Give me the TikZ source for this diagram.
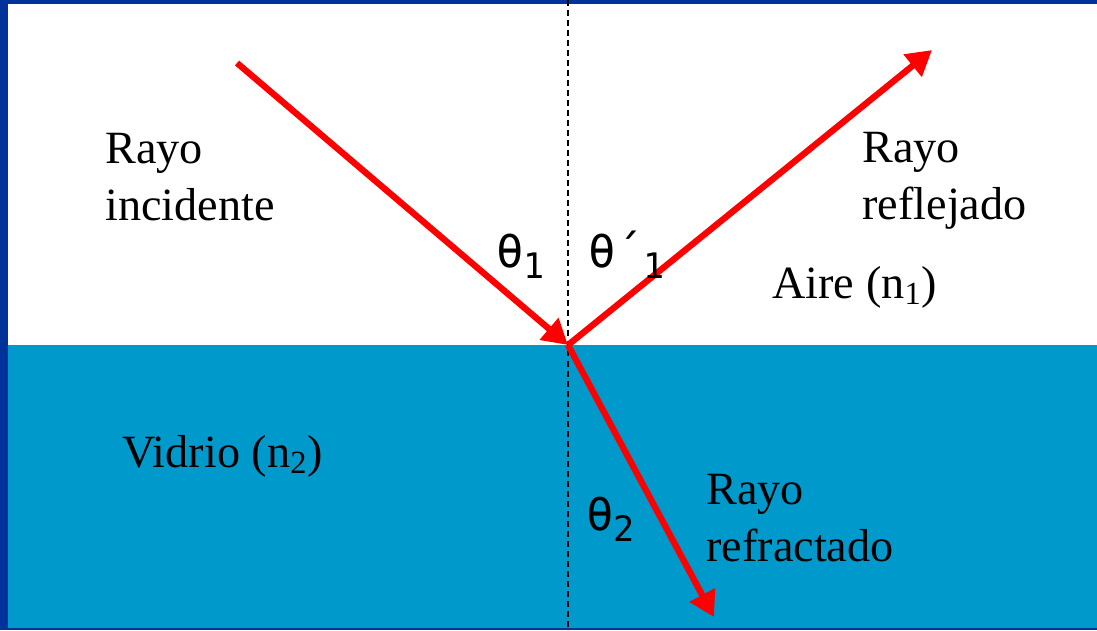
\documentclass[tikz,border=0pt]{standalone}
\usepackage{fontspec}
\setmainfont{Liberation Serif}
\newfontfamily\anglefont{DejaVu Sans Mono}
\usetikzlibrary{arrows.meta}
\definecolor{frameblue}{RGB}{0,51,153}
\definecolor{glassblue}{RGB}{0,153,204}
\definecolor{rayred}{RGB}{255,0,0}
\newcommand{\angsub}[1]{\raisebox{-6.8pt}{\fontsize{20}{20}\selectfont #1}}

\begin{document}
\begin{tikzpicture}[x=0.02cm, y=-0.02cm,
    ray/.style={rayred, line width=3.6pt, -{Triangle[length=0.5cm, width=0.55cm]}},
    txt/.style={inner sep=0pt, anchor=base west, align=left, font=\fontsize{26.3}{32.3}\selectfont},
    ang/.style={inner sep=0pt, anchor=base west, font=\anglefont\fontsize{26}{26}\selectfont}]
  \useasboundingbox (0,0) rectangle (1097,630);
  % media and frame
  \fill [white] (0,0) rectangle (1097,345);
  \fill [glassblue] (0,345) rectangle (1097,630);
  \fill [frameblue] (0,0) rectangle (1097,4);
  \fill [frameblue] (0,0) rectangle (8,630);
  \fill [frameblue] (0,628) rectangle (1097,630);

  \coordinate (ntop) at (568,0);
  \coordinate (nbot) at (568,630);
  \coordinate (src) at (237,63);
  \coordinate (hit) at (568,345);
  \coordinate (refl) at (932,50);
  \coordinate (refr) at (714,617);

  % normal
  \draw [black, line width=0.85pt, dash pattern=on 3.4pt off 2.3pt] (ntop) -- (nbot);

  % rays
  \draw [ray] (src) -- (hit);
  \draw [ray] (hit) -- (refl);
  \draw [ray] (hit) -- (refr);

  \node [txt] (incident) at (105,220) {Rayo\\incidente};
  \node [txt] (reflected) at (862,219) {Rayo\\reflejado};
  \node [txt] (refracted) at (706,561) {Rayo\\refractado};
  \node [txt] (air) at (772,298) {Aire (n\textsubscript{1})};
  \node [txt] (glass) at (122,467) {Vidrio (n\textsubscript{2})};

  \node [ang] (thetaA) at (496,267) {θ\angsub{1}};
  \node [ang] (thetaB) at (588,267) {θ´\angsub{1}};
  \node [ang] (thetaC) at (586,530) {θ\angsub{2}};
\end{tikzpicture}
\end{document}
